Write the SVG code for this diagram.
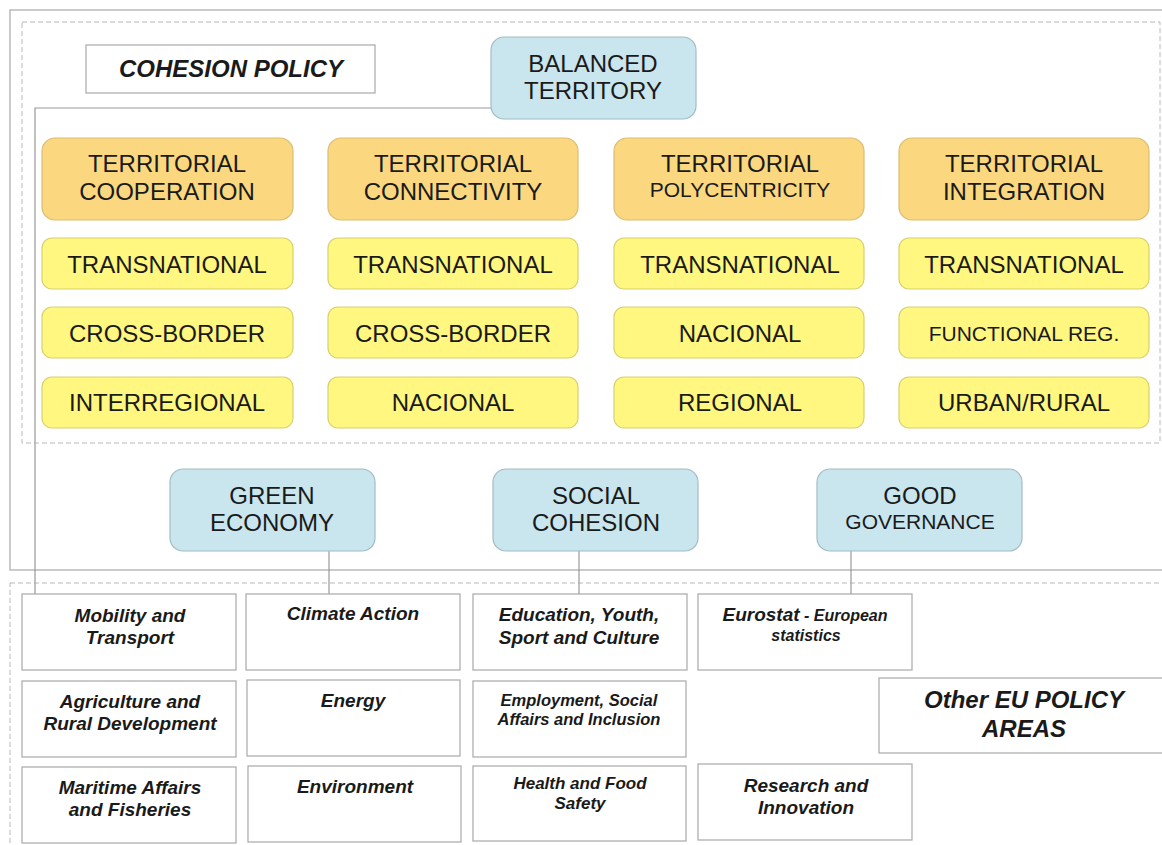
<svg xmlns="http://www.w3.org/2000/svg" width="1162" height="845" viewBox="0 0 1162 845">
<style>
.frame{fill:none;stroke:#a8a8a8;stroke-width:1.2}
.dash{fill:none;stroke:#b8b8b8;stroke-width:1;stroke-dasharray:5,3}
.conn{fill:none;stroke:#999;stroke-width:1.2}
.blue{fill:#c9e5ee;stroke:#a3bcc4;stroke-width:1.2}
.orange{fill:#fbd87f;stroke:#d9bd72;stroke-width:1.2}
.yellow{fill:#fff77f;stroke:#d8d06e;stroke-width:1.2}
.wbox{fill:#fff;stroke:#a8a8a8;stroke-width:1.2}
text{font-family:"Liberation Sans",Arial,sans-serif;fill:#1a1a1a;text-anchor:middle}
.t24{font-size:24px}
.t21{font-size:21px}
.bi{font-weight:bold;font-style:italic}
.b19{font-size:19px}
.b17{font-size:17px}
.b16{font-size:16.5px}
</style>
<rect width="1162" height="845" fill="#fff"/>
<g id="frames">
<rect class="frame" x="10" y="10" width="1160" height="560"/>
<rect class="dash" x="22" y="22" width="1138" height="421"/>
<rect class="dash" x="10" y="583" width="1160" height="270"/>
</g>
<g id="connectors">
<polyline class="conn" points="491,108 35,108 35,594"/>
<line class="conn" x1="329" y1="551" x2="329" y2="594"/>
<line class="conn" x1="579" y1="551" x2="579" y2="594"/>
<line class="conn" x1="851" y1="551" x2="851" y2="594"/>
</g>
<g id="cohesion-policy">
<rect class="wbox" x="86" y="45" width="289" height="48"/>
<text class="t24 bi" x="231" y="77">COHESION POLICY</text>
</g>
<g id="balanced-territory">
<rect class="blue" x="491" y="37" width="205" height="82" rx="13"/>
<text class="t24" x="593" y="72">BALANCED</text>
<text class="t24" x="593" y="99">TERRITORY</text>
</g>
<g id="territorial-cooperation">
<rect class="orange" x="42" y="138" width="251" height="82" rx="13"/>
<text class="t24" x="167" y="172">TERRITORIAL</text>
<text class="t24" x="167" y="200">COOPERATION</text>
</g>
<g id="territorial-connectivity">
<rect class="orange" x="328" y="138" width="250" height="82" rx="13"/>
<text class="t24" x="453" y="172">TERRITORIAL</text>
<text class="t24" x="453" y="200">CONNECTIVITY</text>
</g>
<g id="territorial-polycentricity">
<rect class="orange" x="614" y="138" width="250" height="82" rx="13"/>
<text class="t24" x="740" y="172">TERRITORIAL</text>
<text class="t21" x="740" y="197">POLYCENTRICITY</text>
</g>
<g id="territorial-integration">
<rect class="orange" x="899" y="138" width="250" height="82" rx="13"/>
<text class="t24" x="1024" y="172">TERRITORIAL</text>
<text class="t24" x="1024" y="200">INTEGRATION</text>
</g>
<g id="c1-transnational"><rect class="yellow" x="42" y="238" width="251" height="51" rx="10"/><text class="t24" x="167" y="273">TRANSNATIONAL</text></g>
<g id="c1-cross-border"><rect class="yellow" x="42" y="307" width="251" height="51" rx="10"/><text class="t24" x="167" y="342">CROSS-BORDER</text></g>
<g id="c1-interregional"><rect class="yellow" x="42" y="377" width="251" height="51" rx="10"/><text class="t24" x="167" y="411">INTERREGIONAL</text></g>
<g id="c2-transnational"><rect class="yellow" x="328" y="238" width="250" height="51" rx="10"/><text class="t24" x="453" y="273">TRANSNATIONAL</text></g>
<g id="c2-cross-border"><rect class="yellow" x="328" y="307" width="250" height="51" rx="10"/><text class="t24" x="453" y="342">CROSS-BORDER</text></g>
<g id="c2-nacional"><rect class="yellow" x="328" y="377" width="250" height="51" rx="10"/><text class="t24" x="453" y="411">NACIONAL</text></g>
<g id="c3-transnational"><rect class="yellow" x="614" y="238" width="250" height="51" rx="10"/><text class="t24" x="740" y="273">TRANSNATIONAL</text></g>
<g id="c3-nacional"><rect class="yellow" x="614" y="307" width="250" height="51" rx="10"/><text class="t24" x="740" y="342">NACIONAL</text></g>
<g id="c3-regional"><rect class="yellow" x="614" y="377" width="250" height="51" rx="10"/><text class="t24" x="740" y="411">REGIONAL</text></g>
<g id="c4-transnational"><rect class="yellow" x="899" y="238" width="250" height="51" rx="10"/><text class="t24" x="1024" y="273">TRANSNATIONAL</text></g>
<g id="c4-functional"><rect class="yellow" x="899" y="307" width="250" height="51" rx="10"/><text class="t21" x="1024" y="341">FUNCTIONAL REG.</text></g>
<g id="c4-urban-rural"><rect class="yellow" x="899" y="377" width="250" height="51" rx="10"/><text class="t24" x="1024" y="411">URBAN/RURAL</text></g>
<g id="green-economy">
<rect class="blue" x="170" y="469" width="205" height="82" rx="13"/>
<text class="t24" x="272" y="504">GREEN</text>
<text class="t24" x="272" y="531">ECONOMY</text>
</g>
<g id="social-cohesion">
<rect class="blue" x="493" y="469" width="205" height="82" rx="13"/>
<text class="t24" x="596" y="504">SOCIAL</text>
<text class="t24" x="596" y="531">COHESION</text>
</g>
<g id="good-governance">
<rect class="blue" x="817" y="469" width="205" height="82" rx="13"/>
<text class="t24" x="920" y="504">GOOD</text>
<text class="t21" x="920" y="529">GOVERNANCE</text>
</g>
<g id="mobility">
<rect class="wbox" x="22" y="594" width="214" height="76"/>
<text class="bi b19" x="130" y="622">Mobility and</text>
<text class="bi b19" x="130" y="644">Transport</text>
</g>
<g id="agriculture">
<rect class="wbox" x="22" y="681" width="214" height="76"/>
<text class="bi b19" x="130" y="708">Agriculture and</text>
<text class="bi b19" x="130" y="730">Rural Development</text>
</g>
<g id="maritime">
<rect class="wbox" x="22" y="767" width="214" height="76"/>
<text class="bi b19" x="130" y="794">Maritime Affairs</text>
<text class="bi b19" x="130" y="816">and Fisheries</text>
</g>
<g id="climate">
<rect class="wbox" x="246" y="594" width="214" height="76"/>
<text class="bi b19" x="353" y="620">Climate Action</text>
</g>
<g id="energy">
<rect class="wbox" x="247" y="680" width="213" height="76"/>
<text class="bi b19" x="353" y="707">Energy</text>
</g>
<g id="environment">
<rect class="wbox" x="248" y="766" width="213" height="76"/>
<text class="bi b19" x="355" y="793">Environment</text>
</g>
<g id="education">
<rect class="wbox" x="473" y="594" width="214" height="76"/>
<text class="bi b19" x="579" y="621">Education, Youth,</text>
<text class="bi b19" x="579" y="644">Sport and Culture</text>
</g>
<g id="employment">
<rect class="wbox" x="473" y="681" width="213" height="76"/>
<text class="bi b16" x="579" y="706">Employment, Social</text>
<text class="bi b16" x="579" y="725">Affairs and Inclusion</text>
</g>
<g id="health">
<rect class="wbox" x="473" y="766" width="213" height="75"/>
<text class="bi b17" x="580" y="789">Health and Food</text>
<text class="bi b17" x="580" y="809">Safety</text>
</g>
<g id="eurostat">
<rect class="wbox" x="698" y="594" width="214" height="76"/>
<text class="bi" x="805" y="621"><tspan font-size="19px">Eurostat</tspan><tspan font-size="16px"> - European</tspan></text>
<text class="bi" font-size="16px" x="806" y="641">statistics</text>
</g>
<g id="research">
<rect class="wbox" x="698" y="764" width="214" height="76"/>
<text class="bi b19" x="806" y="792">Research and</text>
<text class="bi b19" x="806" y="814">Innovation</text>
</g>
<g id="other-eu">
<rect class="wbox" x="879" y="678" width="290" height="75"/>
<text class="bi t24" x="1024" y="708">Other EU POLICY</text>
<text class="bi t24" x="1024" y="737">AREAS</text>
</g>
</svg>
